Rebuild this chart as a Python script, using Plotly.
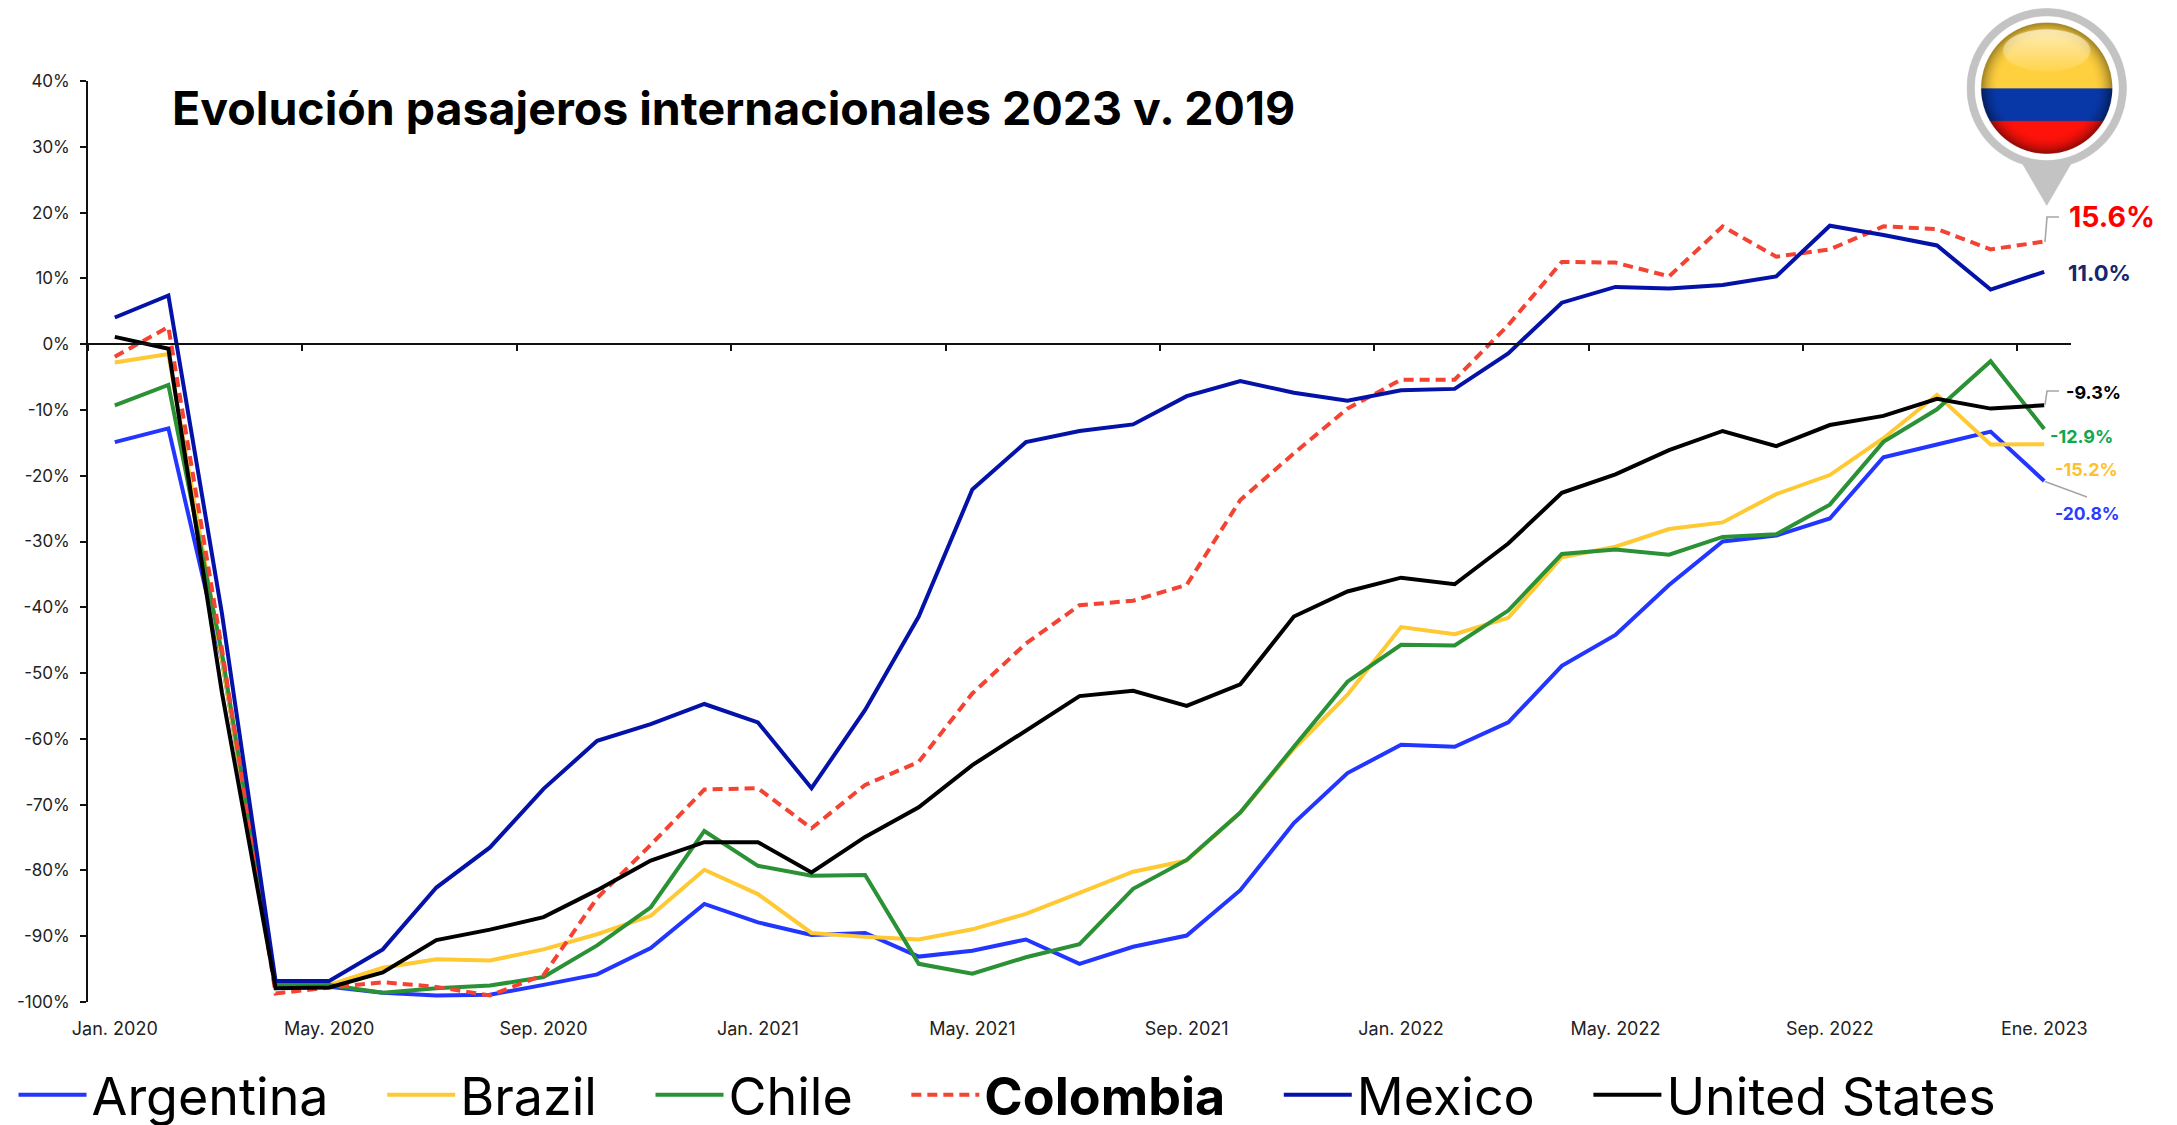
import base64, struct, zlib
import numpy as np
import plotly.graph_objects as go

months = ["Jan. 2020","Feb. 2020","Mar. 2020","Apr. 2020","May. 2020","Jun. 2020","Jul. 2020","Aug. 2020","Sep. 2020",
          "Oct. 2020","Nov. 2020","Dec. 2020","Jan. 2021","Feb. 2021","Mar. 2021","Apr. 2021","May. 2021","Jun. 2021",
          "Jul. 2021","Aug. 2021","Sep. 2021","Oct. 2021","Nov. 2021","Dec. 2021","Jan. 2022","Feb. 2022","Mar. 2022",
          "Apr. 2022","May. 2022","Jun. 2022","Jul. 2022","Aug. 2022","Sep. 2022","Oct. 2022","Nov. 2022","Dec. 2022","Ene. 2023"]
argentina = [-14.9,-12.8,-48.0,-97.4,-97.7,-98.6,-99.0,-98.9,-97.4,-95.8,-91.8,-85.1,-87.9,-89.8,-89.5,-93.1,-92.2,-90.5,-94.2,
             -91.6,-89.9,-83.0,-72.8,-65.2,-60.9,-61.2,-57.5,-48.9,-44.2,-36.6,-30.0,-29.1,-26.5,-17.2,-15.25,-13.3,-20.8]
brazil = [-2.8,-1.5,-48.0,-97.3,-97.4,-94.8,-93.5,-93.7,-92.0,-89.7,-86.9,-79.9,-83.6,-89.5,-90.1,-90.5,-88.95,-86.6,-83.4,
          -80.2,-78.5,-71.2,-61.5,-53.3,-43.0,-44.1,-41.6,-32.4,-30.8,-28.1,-27.1,-22.8,-19.9,-14.3,-7.7,-15.25,-15.2]
chile = [-9.3,-6.2,-47.0,-97.3,-97.4,-98.6,-97.9,-97.5,-96.2,-91.4,-85.6,-74.0,-79.3,-80.8,-80.7,-94.2,-95.7,-93.2,-91.2,
         -82.8,-78.4,-71.2,-61.2,-51.3,-45.7,-45.8,-40.5,-31.9,-31.2,-32.0,-29.3,-28.9,-24.4,-14.85,-9.9,-2.6,-12.9]
colombia = [-1.9,2.6,-46.4,-98.7,-97.8,-97.0,-97.7,-99.0,-95.9,-84.2,-76.1,-67.7,-67.5,-73.6,-67.0,-63.5,-53.1,-45.5,-39.7,
            -39.0,-36.6,-23.7,-16.6,-9.8,-5.4,-5.4,2.9,12.5,12.4,10.3,17.9,13.3,14.4,17.9,17.5,14.4,15.6]
mexico = [4.05,7.4,-41.0,-96.8,-96.8,-92.0,-82.6,-76.5,-67.6,-60.3,-57.75,-54.7,-57.5,-67.5,-55.6,-41.4,-22.1,-14.9,-13.2,
          -12.2,-7.9,-5.6,-7.4,-8.6,-7.0,-6.8,-1.4,6.3,8.7,8.45,9.0,10.3,18.0,16.6,15.0,8.3,11.0]
united_states = [1.1,-0.7,-53.0,-97.9,-97.8,-95.5,-90.6,-89.0,-87.1,-83.0,-78.5,-75.7,-75.7,-80.3,-74.9,-70.4,-64.0,-58.7,-53.5,
                 -52.7,-55.0,-51.7,-41.4,-37.6,-35.5,-36.5,-30.3,-22.6,-19.8,-16.1,-13.2,-15.5,-12.3,-10.9,-8.3,-9.8,-9.3]

series_names = ["Argentina", "Brazil", "Chile", "<b>Colombia</b>", "Mexico", "United States"]
series_values = [argentina, brazil, chile, colombia, mexico, united_states]
series_colors = ["#2236FF", "#FFC933", "#2A9134", "#F44332", "#0412A8", "#000000"]
y_ticks = list(range(-100, 41, 10))
x_label_months = months[::4]
title_text = "Evolución pasajeros internacionales 2023 v. 2019"
FONT = "Inter"

W, H = 2177, 1125
L, R, T, B = 87.5, 2071.0, 81.0, 1002.0
def px(x): return (x - L) / (R - L)
def py(y): return (B - y) / (B - T)
idx = list(range(len(months)))
xrange_ = [-0.5, len(months) - 0.5]


def make_pin():
    S = 3
    x0, x1, y0, y1 = 1960, 2134, 0, 212
    X, Y = np.meshgrid((np.arange((x1 - x0) * S) + .5) / S + x0, (np.arange((y1 - y0) * S) + .5) / S + y0)
    cx, cy = 2046.7, 88.2
    d = np.hypot(X - cx, Y - cy)
    aa = lambda v: np.clip(v * S + .5, 0, 1)
    img = np.ones(X.shape + (3,)) * 255.0
    tri = np.clip(1 - np.abs(X - cx) / 25.0 - (Y - 163) / 43.0, -1, 1)
    tri = aa(tri * 20) * (Y > 150)
    grey = np.maximum(aa(80 - d), tri)
    alpha = grey.copy()
    img[:] = np.array([195, 195, 195.0])
    white = aa(72 - d)[..., None]
    img = img * (1 - white) + 255 * white
    r = 65.6
    yellow = np.array([255, 208, 62.0])
    blue = np.array([8, 56, 168.0])
    red = np.array([255, 18, 10.0])
    flag = np.zeros(X.shape + (3,))
    flag[Y < 88.3] = yellow
    flag[(Y >= 88.3) & (Y < 121)] = blue
    flag[Y >= 121] = red
    n = d / r
    top = (Y < 88.3)[..., None]
    rim = np.clip((n - 0.72) / 0.28, 0, 1)[..., None] ** 2
    flag = flag * (1 - 0.38 * rim * top) * (1 - 0.45 * rim * (~top))
    e = ((X - cx) / 44.5) ** 2 + ((Y - 50.5) / 21.5) ** 2
    gloss = (np.clip((1 - e) * 14, 0, 1) * (0.78 - np.clip((Y - 29) / 43, 0, 1) * 0.68))[..., None]
    flag = flag * (1 - gloss) + np.array([255, 246, 215.0]) * gloss
    fm = aa(r - d)[..., None]
    img = img * (1 - fm) + flag * fm
    rgba = np.dstack([img, alpha * 255]).round().astype(np.uint8)
    raw = b"".join(b"\0" + row.tobytes() for row in rgba)
    def chunk(t, b):
        return struct.pack(">I", len(b)) + t + b + struct.pack(">I", zlib.crc32(t + b) & 0xffffffff)
    png = b"\x89PNG\r\n\x1a\n" + chunk(b"IHDR", struct.pack(">IIBBBBB", rgba.shape[1], rgba.shape[0], 8, 6, 0, 0, 0)) \
        + chunk(b"IDAT", zlib.compress(raw, 9)) + chunk(b"IEND", b"")
    return "data:image/png;base64," + base64.b64encode(png).decode(), x0, x1, y0, y1


fig = go.Figure()
GAP = "\u00a0\u00a0\u00a0\u200a"
for name, vals, col in zip(series_names, series_values, series_colors):
    dashed = "Colombia" in name
    fig.add_trace(go.Scatter(x=idx, y=vals, mode="lines", name=name + GAP,
                             line=dict(color=col, width=4, dash="10px,6px" if dashed else "solid"),
                             cliponaxis=False))
fig.add_trace(go.Scatter(x=idx, y=[None] * len(idx), xaxis="x2", showlegend=False, hoverinfo="skip", mode="lines"))

end_labels = [
    (colombia[-1], "#FF0000", 28.5, 2067, 217),
    (mexico[-1], "#12296E", 22, 2066, 273),
    (united_states[-1], "#000000", 18, 2064, 392),
    (chile[-1], "#0FA84F", 18, 2048, 437),
    (brazil[-1], "#FFC12B", 18, 2053, 470),
    (argentina[-1], "#2A3CFF", 17.5, 2053, 513),
]
ann = [dict(text=f"<b>{v:.1f}%</b>", xref="paper", yref="paper", x=px(x), y=py(y), xanchor="left", yanchor="middle",
            showarrow=False, font=dict(family=FONT, size=s, color=c)) for v, c, s, x, y in end_labels]
ann.append(dict(text=f"<b>{title_text}</b>", xref="paper", yref="paper", x=px(169.5), y=py(108), xanchor="left", yanchor="middle",
                showarrow=False, font=dict(family=FONT, size=46.5, color="#000000")))

gr = dict(color="#A6A6A6", width=1.6)
def leader(pts):
    return dict(type="path", xref="paper", yref="paper", line=gr, layer="above",
                path="M" + " L".join(f"{px(a):.5f},{py(b):.5f}" for a, b in pts))
shapes = [leader([(2045, 242), (2047, 217), (2059, 217)]),
          leader([(2045, 405), (2047, 391), (2059, 391)]),
          leader([(2045, 481.5), (2087, 497)])]

src, ix0, ix1, iy0, iy1 = make_pin()
images = [dict(source=src, xref="paper", yref="paper", x=px(ix0), y=py(iy0), sizex=px(ix1) - px(ix0), sizey=py(iy0) - py(iy1),
               sizing="stretch", xanchor="left", yanchor="top", layer="above")]

fig.update_layout(
    width=W, height=H, margin=dict(l=L, r=W - R, t=T, b=H - B, autoexpand=False),
    paper_bgcolor="white", plot_bgcolor="white", font=dict(family=FONT, color="#222222"),
    annotations=ann, shapes=shapes, images=images, hovermode=False,
    xaxis=dict(range=xrange_, tickvals=idx[::4], ticktext=x_label_months, showgrid=False, zeroline=False, showline=False,
               ticks="", tickfont=dict(family=FONT, size=18, color="#222222"), ticklabelstandoff=14, tickangle=0),
    xaxis2=dict(range=xrange_, overlaying="x", anchor="free", position=100 / 140, side="bottom", showgrid=False, zeroline=False,
                showline=True, linecolor="#111111", linewidth=1.6, ticks="outside", ticklen=6, tickwidth=1.6, tickcolor="#111111",
                tickvals=[i - 0.5 for i in idx[::4]], showticklabels=False),
    yaxis=dict(range=[-100, 40], tickvals=y_ticks, ticktext=[f"{t}%" for t in y_ticks], showgrid=False, zeroline=False,
               showline=True, linecolor="#111111", linewidth=1.6, ticks="outside", ticklen=6, tickwidth=1.6, tickcolor="#111111",
               tickfont=dict(family=FONT, size=17, color="#222222"), ticklabelstandoff=7),
    legend=dict(orientation="h", x=px(13), xanchor="left", y=py(1095), yanchor="middle", itemwidth=68, bgcolor="rgba(0,0,0,0)",
                font=dict(family=FONT, size=52, color="#000000"), traceorder="normal", itemclick=False, itemdoubleclick=False),
    showlegend=True,
)
fig.write_html("out.html", config={"displayModeBar": False},
               post_script="document.body.style.margin='0';document.documentElement.style.overflow='hidden';")
